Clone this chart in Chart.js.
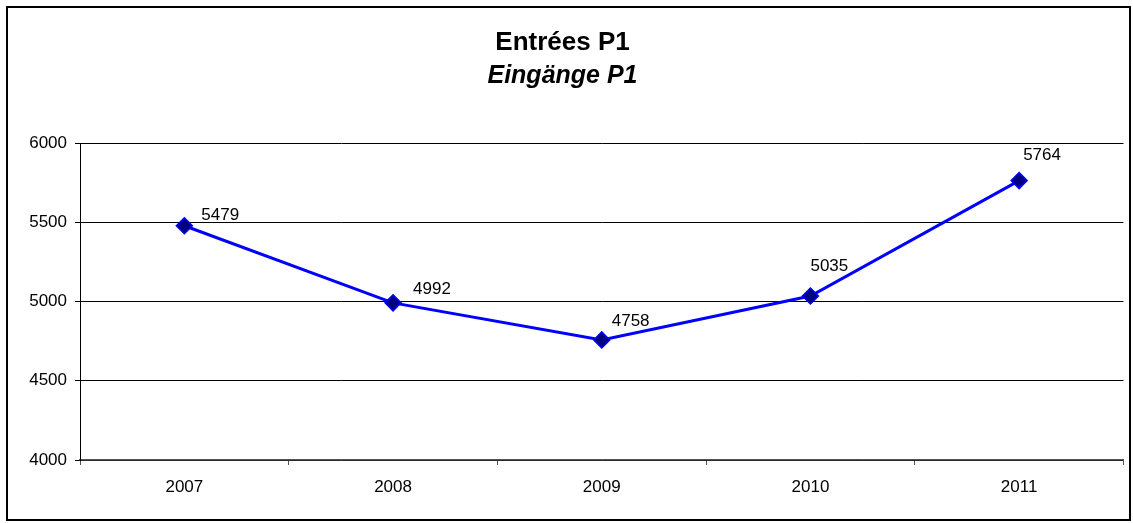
<!DOCTYPE html>
<html>
<head>
<meta charset="utf-8">
<title>Entrées P1</title>
<script src="https://cdn.jsdelivr.net/npm/chart.js@4"></script>
<style>
  body { margin: 0; background: #fff; }
  #wrap { width: 1133px; height: 523px; }
</style>
</head>
<body>
<div id="wrap"><canvas id="entreesChart" width="1133" height="523"></canvas></div>
<script>
// data
const years = ['2007', '2008', '2009', '2010', '2011'];
const entrees = [5479, 4992, 4758, 5035, 5764];
const yTicks = [4000, 4500, 5000, 5500, 6000];

// label offsets relative to each point (as placed in the original)
const labelOffsets = [[17, -10], [20, -14], [10, -19], [0, -30], [4, -25]];

const FONT = "'Liberation Sans', Arial, sans-serif";

// outer frame round the whole chart
const framePlugin = {
    id: 'frame',
    beforeDraw(chart) {
        const c = chart.ctx;
        c.save();
        c.fillStyle = '#fff';
        c.fillRect(0, 0, chart.width, chart.height);
        c.strokeStyle = '#000';
        c.lineWidth = 2;
        c.strokeRect(7, 7, 1123, 513);
        c.restore();
    }
};

// value labels next to the markers
const valueLabels = {
    id: 'valueLabels',
    afterDatasetsDraw(chart) {
        const c = chart.ctx;
        const meta = chart.getDatasetMeta(0);
        c.save();
        c.font = '17px ' + FONT;
        c.fillStyle = '#000';
        c.textAlign = 'left';
        c.textBaseline = 'middle';
        meta.data.forEach((pt, i) => {
            const off = labelOffsets[i];
            c.fillText(String(entrees[i]), pt.x + off[0], pt.y + off[1]);
        });
        c.restore();
    }
};

const ctx = document.getElementById('entreesChart').getContext('2d');

new Chart(ctx, {
    type: 'line',
    data: {
        labels: years,
        datasets: [{
            data: entrees,
            borderColor: '#0000FF',
            borderWidth: 3,
            tension: 0,
            pointStyle: 'rectRot',
            pointRadius: 8,
            pointBackgroundColor: '#000080',
            pointBorderColor: '#0000FF',
            pointBorderWidth: 1.5
        }]
    },
    options: {
        responsive: false,
        animation: false,
        layout: { padding: { left: 0, right: 8, top: 0, bottom: 0 } },
        plugins: {
            legend: { display: false },
            tooltip: { enabled: false },
            title: {
                display: true,
                text: 'Entrées P1',
                color: '#000',
                font: { family: FONT, size: 26, weight: 'bold' },
                padding: { top: 27, bottom: 3 }
            },
            subtitle: {
                display: true,
                text: 'Eingänge P1',
                color: '#000',
                font: { family: FONT, size: 25, weight: 'bold', style: 'italic' },
                padding: { top: 0, bottom: 52 }
            }
        },
        scales: {
            x: {
                offset: true,
                grid: {
                    offset: true,
                    drawOnChartArea: false,
                    drawTicks: true,
                    tickLength: 5,
                    color: '#555'
                },
                border: { color: '#555', width: 1.5 },
                ticks: { color: '#000', padding: 12, font: { family: FONT, size: 17 } },
                afterFit(scale) { scale.height = 63; }
            },
            y: {
                min: 4000,
                max: 6000,
                afterBuildTicks(scale) { scale.ticks = yTicks.map(v => ({ value: v })); },
                grid: { color: '#000', lineWidth: 1, tickLength: 5 },
                border: { color: '#000', width: 1 },
                ticks: {
                    color: '#000',
                    padding: 8,
                    font: { family: FONT, size: 17 },
                    callback: v => String(v)
                },
                afterFit(scale) { scale.width = 80; }
            }
        }
    },
    plugins: [framePlugin, valueLabels]
});
</script>
</body>
</html>
